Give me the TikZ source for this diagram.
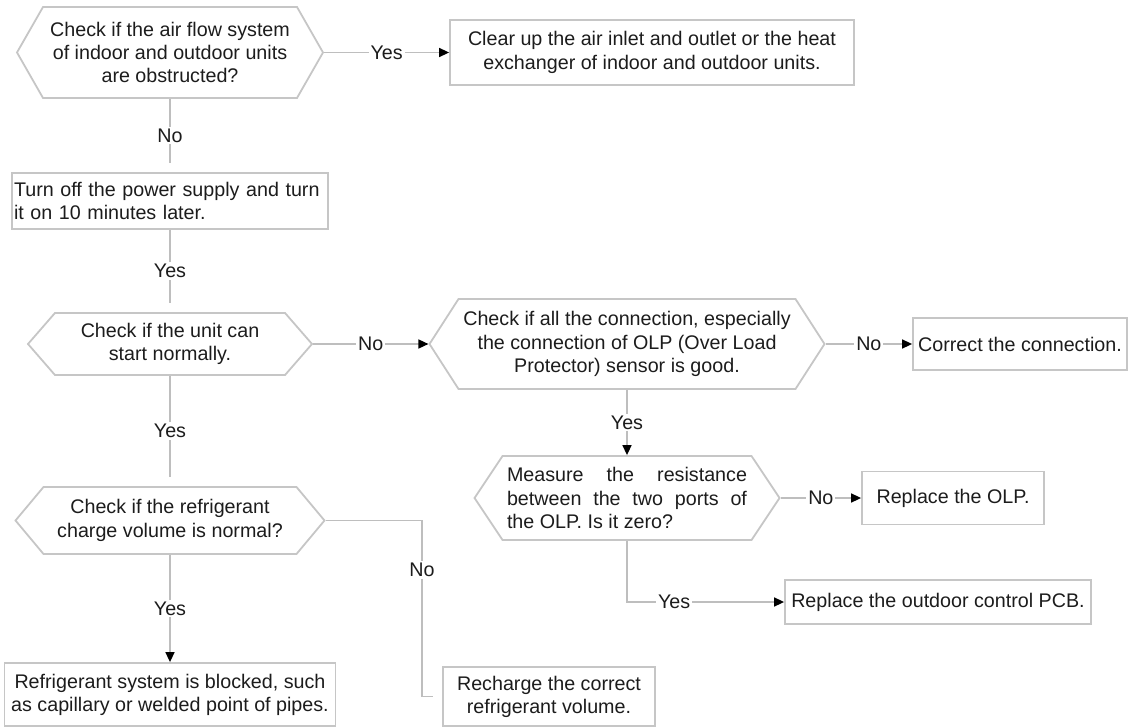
\documentclass[tikz,border=0pt]{standalone}
\usepackage{fontspec}
\setmainfont{Liberation Sans}\setsansfont{Liberation Sans}
\usetikzlibrary{arrows.meta,shapes.symbols}
\definecolor{Frame}{HTML}{C6C6C6}
\definecolor{Wire}{HTML}{BEBEBE}
\definecolor{Ink}{HTML}{1C1C1C}
\begin{document}
\begin{tikzpicture}[x=.5pt,y=-.5pt,>={Triangle[length=5pt,width=4.5pt,color=black]},every node/.style={font=\sffamily\fontsize{9.85}{11.6}\selectfont,text=Ink},
actbox/.style={draw=Frame,line width=.9pt,rectangle,align=center,inner sep=0pt},askhex/.style={draw=Frame,line width=.9pt,shape=signal,signal to=east and west,align=center,inner sep=0pt},
link/.style={draw=Wire,line width=.75pt},ans/.style={fill=white,inner sep=1pt}]
\useasboundingbox(0,0)rectangle(1128,727);
\node[askhex,minimum width=153pt,minimum height=45.5pt,signal pointer angle=120.5](q1)at(170,52.5){Check if the air flow system\\of indoor and outdoor units\\are obstructed?};
\node[actbox,minimum width=202pt,minimum height=32.5pt](b1)at(652,52.5){Clear up the air inlet and outlet or the heat\\exchanger of indoor and outdoor units.};
\node[actbox,text width=156pt,align=left,inner xsep=1pt,minimum height=28pt](b2)at(170,201){Turn off the power supply and turn\\it on 10 minutes later.};
\node[askhex,minimum width=142pt,minimum height=31pt,signal pointer angle=98](q3)at(170,344){Check if the unit can\\start normally.};
\node[askhex,minimum width=197.5pt,minimum height=45pt,signal pointer angle=114.4](q4)at(627,344){Check if all the connection, especially\\the connection of OLP (Over Load\\Protector) sensor is good.};
\node[actbox,minimum width=107pt,minimum height=26pt](b3)at(1020,344){Correct the connection.};
\node[askhex,minimum width=152.5pt,minimum height=42pt,signal pointer angle=112.6](q5)at(627,498){\makebox[120pt][s]{Measure the resistance}\\\makebox[120pt][s]{between the two ports of}\\\makebox[120pt][l]{the OLP. Is it zero?}};
\node[actbox,minimum width=91pt,minimum height=26.5pt](b4)at(953,498){Replace the OLP.};
\node[actbox,minimum width=153pt,minimum height=22pt](b5)at(938,602){Replace the outdoor control PCB.};
\node[askhex,minimum width=154.5pt,minimum height=33.5pt,signal pointer angle=100.2](q6)at(170,520.5){Check if the refrigerant\\charge volume is normal?};
\node[actbox,minimum width=165.5pt,minimum height=31.5pt](b7)at(170,694.5){Refrigerant system is blocked, such\\as capillary or welded point of pipes.};
\node[actbox,minimum width=106pt,minimum height=29.5pt](b8)at(549,696.5){Recharge the correct\\refrigerant volume.};
\coordinate(k1)at(422,696.5);
\draw[link,->](q1.east)--(b1.west)node[ans,midway]{Yes};\draw[link,shorten >=4.5pt](q1.south)--(b2.north)node[ans,midway]{No};
\draw[link,shorten >=4.5pt](b2.south)--(q3.north)node[ans,midway]{Yes};\draw[link,->](q3.east)--(q4.west)node[ans,midway]{No};
\draw[link,->](q4.east)--(b3.west)node[ans,midway]{No};\draw[link,->](q4.south)--(q5.north)node[ans,midway]{Yes};
\draw[link,->](q5.east)--(b4.west)node[ans,midway]{No};\draw[link,->](q5.south)|-(b5.west)node[ans,pos=.65]{Yes};
\draw[link,shorten >=4.5pt](q3.south)--(q6.north)node[ans,midway]{Yes};\draw[link,->](q6.south)--(b7.north)node[ans,midway]{Yes};
\draw[link,shorten >=4.5pt](q6.east)-|(k1)node[ans,pos=.64]{No}--(b8.west);
\end{tikzpicture}
\end{document}
